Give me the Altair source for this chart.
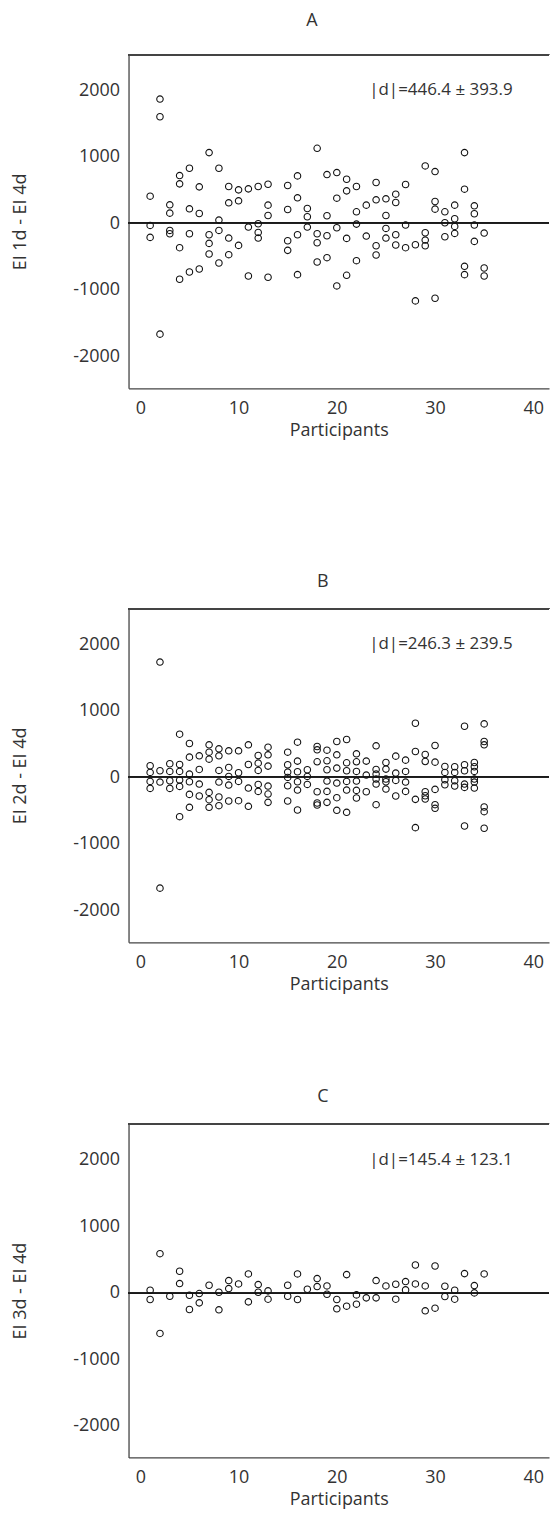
import altair as alt
import pandas as pd

FONT = "Open Sans"
TEXT = "#333333"
FRAME = "#444444"
FS = 18

X_DOMAIN = [-1.2, 41.6]
Y_DOMAIN = [-2480, 2540]
X_TICKS = [0, 10, 20, 30, 40]
Y_TICKS = [-2000, -1000, 0, 1000, 2000]

# Panel A: EI 1d - EI 4d
a_participant = [1, 1, 1, 2, 2, 2, 3, 3, 3, 3, 4, 4, 4, 4, 5, 5, 5, 5,
                 6, 6, 6, 7, 7, 7, 7, 8, 8, 8, 8, 9, 9, 9, 9, 10, 10, 10,
                 11, 11, 11, 12, 12, 12, 12, 13, 13, 13, 13, 15, 15, 15, 15,
                 16, 16, 16, 16, 17, 17, 17, 18, 18, 18, 18, 19, 19, 19, 19,
                 20, 20, 20, 20, 21, 21, 21, 21, 22, 22, 22, 22, 23, 23,
                 24, 24, 24, 24, 25, 25, 25, 25, 26, 26, 26, 26, 27, 27, 27,
                 28, 28, 29, 29, 29, 29, 30, 30, 30, 30, 31, 31, 31,
                 32, 32, 32, 32, 33, 33, 33, 33, 34, 34, 34, 34, 35, 35, 35]
a_diff = [410, -30, -210, 1870, 1605, -1665, 280, 155, -105, -155,
          720, 595, -365, -840, 830, 220, -155, -730,
          550, 150, -685, 1065, -170, -300, -460, 830, 50, -105, -595,
          555, 310, -220, -470, 505, 340, -330,
          520, -55, -790, 555, -5, -135, -220, 590, 275, 120, -810,
          570, 210, -260, -405,
          715, 385, -170, -770, 225, 100, -55, 1130, -155, -290, -580,
          735, 115, -185, -515,
          765, 380, -65, -940, 665, 490, -225, -780, 555, 175, -10, -560,
          275, -190,
          615, 355, -335, -475, 370, 120, -75, -220, 440, 315, -170, -325,
          585, -25, -365,
          -320, -1165, 865, -140, -250, -335, 780, 330, 215, -1125,
          175, 10, -200,
          275, 70, -45, -150, 1065, 515, -645, -770, 265, 145, -25, -270,
          -145, -670, -790]

# Panel B: EI 2d - EI 4d
b_participant = [1, 1, 1, 1, 2, 2, 2, 2, 3, 3, 3, 3, 4, 4, 4, 4, 4, 4,
                 5, 5, 5, 5, 5, 5, 6, 6, 6, 6, 7, 7, 7, 7, 7, 7,
                 8, 8, 8, 8, 8, 8, 9, 9, 9, 9, 9, 10, 10, 10, 10,
                 11, 11, 11, 11, 12, 12, 12, 12, 12, 13, 13, 13, 13, 13, 13,
                 15, 15, 15, 15, 15, 15, 16, 16, 16, 16, 16, 16, 17, 17, 17,
                 18, 18, 18, 18, 18, 18, 19, 19, 19, 19, 19, 19,
                 20, 20, 20, 20, 20, 20, 21, 21, 21, 21, 21, 21,
                 22, 22, 22, 22, 22, 22, 23, 23, 23, 24, 24, 24, 24, 24, 24,
                 25, 25, 25, 25, 25, 26, 26, 26, 26, 27, 27, 27, 27,
                 28, 28, 28, 28, 29, 29, 29, 29, 29, 30, 30, 30, 30, 30,
                 31, 31, 31, 31, 32, 32, 32, 32, 33, 33, 33, 33, 33, 33,
                 34, 34, 34, 34, 34, 34, 35, 35, 35, 35, 35, 35]
b_diff = [175, 75, -60, -165, 1735, 100, -70, -1665, 205, 90, -50, -165,
          650, 195, 90, -40, -135, -590,
          510, 305, 50, -65, -255, -450, 325, 120, -100, -280,
          490, 380, 275, -225, -335, -450,
          430, 325, 105, -70, -295, -425, 400, 150, 15, -115, -355,
          400, 70, -60, -350,
          490, 195, -160, -435, 330, 215, 105, -105, -210,
          455, 340, 170, -130, -250, -375,
          380, 190, 80, 0, -125, -355, 530, 245, 85, -65, -190, -490,
          115, 15, -105,
          465, 415, 235, -215, -385, -415, 410, 250, 115, -55, -210, -375,
          540, 340, 140, -85, -305, -495, 570, 220, 100, -60, -190, -525,
          355, 235, 90, -55, -195, -310, 245, 35, -215,
          475, 120, 50, -25, -100, -410,
          225, 125, -25, -65, -175, 320, 65, -45, -280, 260, 90, -70, -210,
          815, 390, -330, -755, 345, 240, -215, -275, -325,
          480, 230, -180, -410, -465,
          165, 75, -35, -110, 160, 75, -50, -130,
          770, 190, 100, -100, -150, -730,
          225, 160, 90, -25, -70, -160, 805, 540, 490, -445, -515, -765]

# Panel C: EI 3d - EI 4d
c_participant = [1, 1, 2, 2, 3, 4, 4, 5, 5, 6, 6, 7, 8, 8, 9, 9, 10,
                 11, 11, 12, 12, 13, 13, 15, 15, 16, 16, 17, 18, 18,
                 19, 19, 20, 20, 21, 21, 22, 22, 23, 24, 24, 25,
                 26, 26, 27, 27, 28, 28, 29, 29, 30, 30, 31, 31,
                 32, 32, 33, 34, 34, 35]
c_diff = [35, -105, 585, -615, -55, 320, 135, -40, -255, -15, -155, 110,
          5, -260, 180, 60, 130,
          280, -140, 120, 5, 25, -100, 110, -55, 280, -105, 50, 210, 90,
          100, -25, -105, -245, 270, -205, -35, -175, -80, 180, -80, 100,
          125, -100, 165, 40, 415, 130, 100, -275, 400, -235, 95, -60,
          35, -100, 285, 105, -5, 280]

panel_letters = ["A", "B", "C"]
panel_ylabels = ["EI 1d - EI 4d", "EI 2d - EI 4d", "EI 3d - EI 4d"]
panel_notes = ["|d|=446.4 ± 393.9", "|d|=246.3 ± 239.5", "|d|=145.4 ± 123.1"]
title_dx = [-27, -16, -16]
title_offset = [24, 17, 17]

# where the |d| summary sits, in data units
NOTE_X = 23.3
NOTE_Y = 2000

W, H = 422, 335


def panel(letter, ylabel, participant, diff, note, dx, offset):
    df = pd.DataFrame({"participant": participant, "diff": diff})
    x = alt.X("participant:Q",
              scale=alt.Scale(domain=X_DOMAIN, nice=False, zero=False),
              axis=alt.Axis(values=X_TICKS, title="Participants"))
    y = alt.Y("diff:Q",
              scale=alt.Scale(domain=Y_DOMAIN, nice=False, zero=False),
              axis=alt.Axis(values=Y_TICKS, title=ylabel,
                            labelExpr="'' + datum.value"))

    top_edge = alt.Chart(df).mark_rule(color=FRAME, strokeWidth=1.3).encode(
        y=alt.value(0))
    zero_line = alt.Chart(df).mark_rule(color="#222222", strokeWidth=1.0).encode(
        y=alt.datum(0))
    points = alt.Chart(df).mark_point(
        shape="circle", filled=False, color="#111111", size=42,
        strokeWidth=1.1, opacity=1).encode(x=x, y=y)

    note_df = pd.DataFrame({"participant": [NOTE_X], "diff": [NOTE_Y], "label": [note]})
    note_text = alt.Chart(note_df).mark_text(
        align="left", baseline="middle", font=FONT, fontSize=17, color=TEXT
    ).encode(x=x, y=y, text="label:N")

    return alt.layer(top_edge, zero_line, points, note_text).properties(
        width=W, height=H,
        title=alt.TitleParams(text=letter, dx=dx, offset=offset, anchor="middle",
                              font=FONT, fontSize=FS, fontWeight="normal",
                              color=TEXT),
    )


charts = [panel(panel_letters[i], panel_ylabels[i], p, d, panel_notes[i],
                title_dx[i], title_offset[i])
          for i, (p, d) in enumerate([(a_participant, a_diff),
                                      (b_participant, b_diff),
                                      (c_participant, c_diff)])]

upper = alt.vconcat(charts[0], charts[1], spacing=132)
chart = alt.vconcat(upper, charts[2], spacing=93).properties(
    padding={"left": 11, "top": 8, "right": 0, "bottom": 0}
).configure_view(
    stroke="transparent"
).configure_axis(
    grid=False, ticks=False, domain=True, domainColor=FRAME, domainWidth=1.3,
    labelFont=FONT, labelFontSize=FS, labelColor=TEXT, labelFlush=False,
    titleFont=FONT, titleFontSize=FS, titleFontWeight="normal", titleColor=TEXT,
).configure_axisX(
    labelPadding=11, titlePadding=4
).configure_axisY(
    labelPadding=9, titlePadding=43
)

chart.save("out.html", embed_options={"renderer": "svg", "actions": False})
